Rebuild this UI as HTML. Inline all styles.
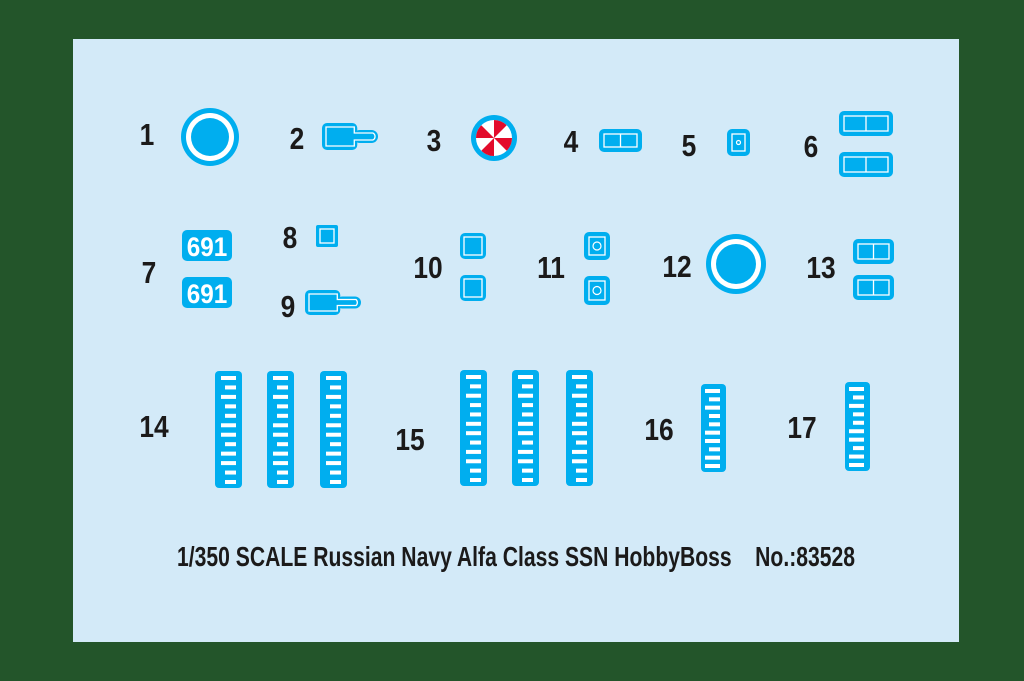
<!DOCTYPE html>
<html><head><meta charset="utf-8"><style>
html,body{margin:0;padding:0;background:#23552a;}
svg{display:block}
.n{font-family:"Liberation Sans Narrow","Liberation Sans",sans-serif;font-weight:bold;font-size:31px;fill:#1b1a1a;text-anchor:middle}
</style></head><body>
<svg id="s" width="1024" height="681" viewBox="0 0 1024 681" xmlns="http://www.w3.org/2000/svg">
<rect width="1024" height="681" fill="#23552a"/>
<rect x="73" y="39" width="886" height="603" fill="#d3eaf8"/>
<g class="n">
<text x="147" y="145" class="n" transform="translate(147,0) scale(0.85,1) translate(-147,0)">1</text>
<text x="297" y="149" class="n" transform="translate(297,0) scale(0.85,1) translate(-297,0)">2</text>
<text x="434" y="151" class="n" transform="translate(434,0) scale(0.85,1) translate(-434,0)">3</text>
<text x="571" y="152" class="n" transform="translate(571,0) scale(0.85,1) translate(-571,0)">4</text>
<text x="689" y="156" class="n" transform="translate(689,0) scale(0.85,1) translate(-689,0)">5</text>
<text x="811" y="157" class="n" transform="translate(811,0) scale(0.85,1) translate(-811,0)">6</text>
<text x="149" y="283" class="n" transform="translate(149,0) scale(0.85,1) translate(-149,0)">7</text>
<text x="290" y="248" class="n" transform="translate(290,0) scale(0.85,1) translate(-290,0)">8</text>
<text x="288" y="317" class="n" transform="translate(288,0) scale(0.85,1) translate(-288,0)">9</text>
<text x="428" y="278" class="n" transform="translate(428,0) scale(0.85,1) translate(-428,0)">10</text>
<text x="551" y="278" class="n" transform="translate(551,0) scale(0.85,1) translate(-551,0)">11</text>
<text x="677" y="277" class="n" transform="translate(677,0) scale(0.85,1) translate(-677,0)">12</text>
<text x="821" y="278" class="n" transform="translate(821,0) scale(0.85,1) translate(-821,0)">13</text>
<text x="154" y="437" class="n" transform="translate(154,0) scale(0.85,1) translate(-154,0)">14</text>
<text x="410" y="450" class="n" transform="translate(410,0) scale(0.85,1) translate(-410,0)">15</text>
<text x="659" y="440" class="n" transform="translate(659,0) scale(0.85,1) translate(-659,0)">16</text>
<text x="802" y="438" class="n" transform="translate(802,0) scale(0.85,1) translate(-802,0)">17</text>
<text x="516" y="566" class="n" style="font-size:28px" transform="translate(516,0) scale(0.755,1) translate(-516,0)" xml:space="preserve">1/350 SCALE Russian Navy Alfa Class SSN HobbyBoss    No.:83528</text>
</g>
<g fill="#00aeef">
<circle cx="210" cy="137" r="29"/><circle cx="210" cy="137" r="24" fill="#fff"/><circle cx="210" cy="137" r="19"/>
<circle cx="736" cy="264" r="30"/><circle cx="736" cy="264" r="25" fill="#fff"/><circle cx="736" cy="264" r="20"/>
<circle cx="494" cy="138" r="23"/><circle cx="494" cy="138" r="18" fill="#fff"/>
</g>
<g fill="#e30b2b">
<path d="M494 138 L494 120 A18 18 0 0 1 506.7 125.3Z"/>
<path d="M494 138 L512 138 A18 18 0 0 1 506.7 150.7Z"/>
<path d="M494 138 L494 156 A18 18 0 0 1 481.3 150.7Z"/>
<path d="M494 138 L476 138 A18 18 0 0 1 481.3 125.3Z"/>
</g>
<g id="shapes" fill="#00aeef" stroke="none"></g>
</svg>
<script>
var g=document.getElementById('shapes'),NS='http://www.w3.org/2000/svg';
function el(t,a){var e=document.createElementNS(NS,t);for(var k in a)e.setAttribute(k,a[k]);g.appendChild(e);return e;}
function box(x,y,w,h,r){el('rect',{x:x,y:y,width:w,height:h,rx:r||4,fill:'#00aeef'});}
function wbox(x,y,w,h){el('rect',{x:x,y:y,width:w,height:h,fill:'none',stroke:'#fff','stroke-width':1.3});}
function pill(x,y,w,h){var bw=w*0.63;box(x+bw-4,y+h*0.26,w-bw+4,h*0.48,h*0.24);box(x,y,bw,h,5);
 el('path',{d:'M'+(x+4)+' '+(y+4)+'H'+(x+bw-3)+'V'+(y+h*0.26+3)+'H'+(x+w-5)+'A4 4 0 0 1 '+(x+w-5)+' '+(y+h*0.74-3)+'H'+(x+bw-3)+'V'+(y+h-4)+'H'+(x+4)+'Z',fill:'none',stroke:'#fff','stroke-width':1.3});}
pill(322,123,56,27);pill(305,290,56,25);
function dbl(x,y,w,h){box(x,y,w,h,5);wbox(x+5,y+5,w-10,h-10);el('line',{x1:x+w/2,y1:y+5,x2:x+w/2,y2:y+h-5,stroke:'#fff','stroke-width':1.3});}
dbl(599,129,43,23);dbl(839,111,54,25);dbl(839,152,54,25);dbl(853,239,41,25);dbl(853,275,41,25);
function circBox(x,y,w,h,r){box(x,y,w,h,5);wbox(x+5,y+5,w-10,h-10);el('circle',{cx:x+w/2,cy:y+h/2,r:r,fill:'none',stroke:'#fff','stroke-width':1.2});}
circBox(727,129,23,27,2);circBox(584,232,26,28,4);circBox(584,276,26,29,4);
function sq(x,y,w,h,r){box(x,y,w,h,r);wbox(x+4,y+4,w-8,h-8);}
sq(316,225,22,22,2);sq(460,233,26,26,5);sq(460,275,26,26,5);
[230,277].forEach(function(y){box(182,y,50,31,5);var t=el('text',{x:207,y:y+26,'text-anchor':'middle',fill:'#fff','font-family':'Liberation Sans Narrow, Liberation Sans, sans-serif','font-weight':'bold','font-size':'27',transform:'translate(207,0) scale(0.9,1) translate(-207,0)'});t.textContent='691';});
function strip(x,y,w,h,n){box(x,y,w,h,4);var step=(h-13)/(n-1);for(var i=0;i<n;i++){var lw=(i%3==1||i%4==3)?11:15;el('rect',{x:x+w-6-lw,y:y+5+i*step,width:lw,height:4,fill:'#fff'});}}
[215,267,320].forEach(function(x){strip(x,371,27,117,12);});
[460,512,566].forEach(function(x){strip(x,370,27,116,12);});
strip(701,384,25,88,10);strip(845,382,25,89,10);
</script>
</body></html>
